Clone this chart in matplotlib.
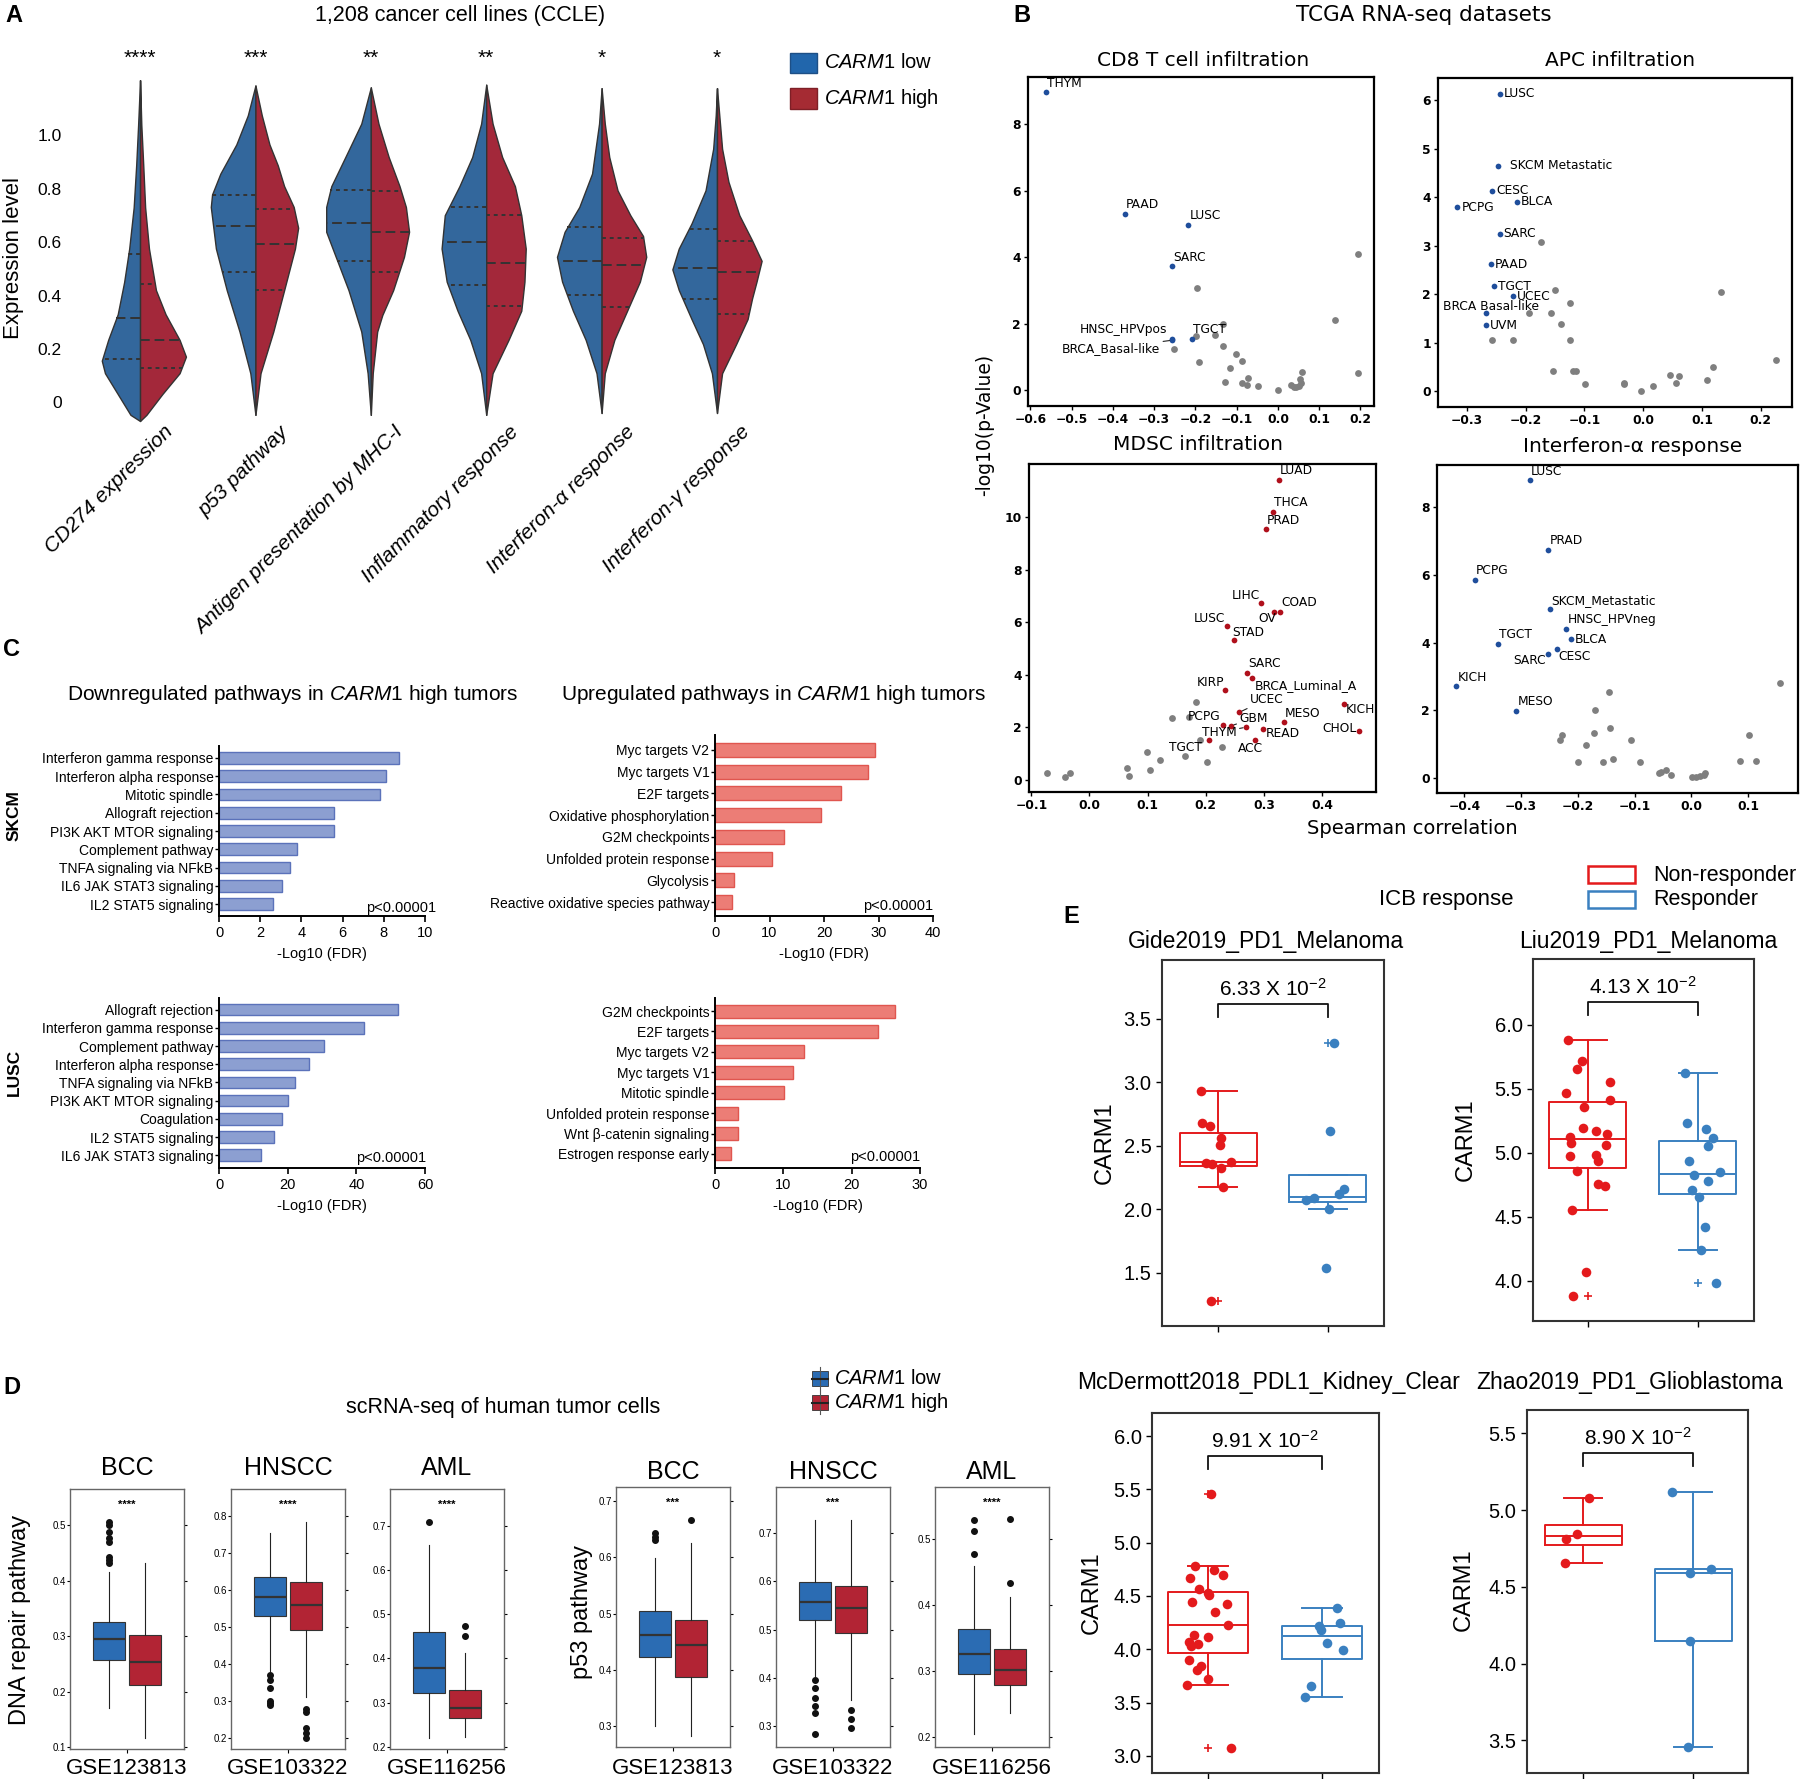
import numpy as np
import matplotlib
matplotlib.use('Agg')
import matplotlib.pyplot as plt
from matplotlib.patches import Rectangle

plt.rcParams['font.family'] = ['Liberation Sans', 'DejaVu Sans']
plt.rcParams['mathtext.fontset'] = 'custom'
plt.rcParams['mathtext.rm'] = 'Liberation Sans'
plt.rcParams['mathtext.it'] = 'Liberation Sans:italic'
plt.rcParams['mathtext.bf'] = 'Liberation Sans:bold'

# ---------------- A: CCLE violins ----------------
a_names = ['CD274 expression', 'p53 pathway', 'Antigen presentation by MHC-I',
           'Inflammatory response', 'Interferon-α response', 'Interferon-γ response']
a_stars = ['****', '***', '**', '**', '*', '*']
# (q1, median, q3)
a_low_q = [(0.164, 0.315, 0.555), (0.488, 0.662, 0.777), (0.531, 0.673, 0.794),
           (0.44, 0.60, 0.732), (0.403, 0.531, 0.657), (0.386, 0.503, 0.651)]
a_high_q = [(0.128, 0.234, 0.442), (0.419, 0.595, 0.724), (0.488, 0.639, 0.79),
            (0.36, 0.523, 0.70), (0.358, 0.514, 0.615), (0.332, 0.488, 0.606)]
# density profiles (level, relative half width)
a_low_lv = [
    [-0.07, -0.047, 0.031, 0.109, 0.156, 0.234, 0.33, 0.45, 0.576, 0.73, 0.89, 1.04, 1.207],
    [-0.047, 0.109, 0.265, 0.42, 0.576, 0.732, 0.779, 0.857, 0.966, 1.075, 1.187],
    [-0.047, 0.109, 0.265, 0.42, 0.545, 0.639, 0.732, 0.81, 0.919, 1.044, 1.18],
    [-0.047, 0.109, 0.234, 0.343, 0.452, 0.576, 0.701, 0.81, 0.919, 1.044, 1.19],
    [-0.04, 0.109, 0.234, 0.343, 0.452, 0.545, 0.639, 0.732, 0.857, 1.044, 1.177],
    [-0.04, 0.109, 0.218, 0.312, 0.421, 0.498, 0.576, 0.67, 0.794, 0.95, 1.075, 1.177]]
a_low_w = [
    [0, 15, 35, 55, 60, 50, 35, 25, 17, 10, 6, 3, 0],
    [0, 8, 25, 45, 62, 70, 68, 55, 30, 12, 0],
    [0, 5, 15, 35, 55, 70, 70, 62, 40, 15, 0],
    [0, 8, 25, 45, 62, 70, 65, 42, 22, 8, 0],
    [0, 8, 25, 45, 62, 70, 58, 35, 15, 4, 0],
    [0, 8, 22, 40, 60, 70, 60, 40, 18, 6, 2, 0]]
a_high_lv = [
    [-0.07, -0.047, 0.031, 0.109, 0.171, 0.234, 0.33, 0.42, 0.576, 0.73, 0.89, 1.04, 1.207],
    [-0.047, 0.109, 0.265, 0.42, 0.576, 0.654, 0.732, 0.81, 0.888, 0.966, 1.075, 1.187],
    [-0.047, 0.109, 0.265, 0.327, 0.42, 0.545, 0.639, 0.732, 0.81, 0.919, 1.044, 1.18],
    [-0.047, 0.109, 0.234, 0.343, 0.452, 0.576, 0.701, 0.81, 0.919, 1.044, 1.19],
    [-0.04, 0.109, 0.234, 0.343, 0.452, 0.545, 0.623, 0.701, 0.794, 0.919, 1.044, 1.177],
    [-0.04, 0.109, 0.218, 0.312, 0.389, 0.452, 0.53, 0.607, 0.701, 0.826, 0.95, 1.177]]
a_high_w = [
    [0, 10, 35, 62, 72, 62, 40, 25, 14, 8, 5, 2, 0],
    [0, 8, 28, 45, 62, 67, 60, 45, 35, 22, 10, 0],
    [0, 3, 10, 18, 35, 52, 60, 55, 45, 28, 12, 0],
    [0, 10, 35, 55, 60, 62, 55, 45, 25, 10, 0],
    [0, 5, 20, 40, 60, 70, 65, 45, 25, 12, 5, 0],
    [0, 8, 30, 48, 55, 62, 70, 55, 35, 18, 8, 0]]

# ---------------- B: TCGA scatter ----------------
cd8_names = ['THYM', 'PAAD', 'LUSC', 'SARC', 'HNSC_HPVpos', 'BRCA_Basal-like', 'TGCT']
cd8_x = [-0.563, -0.371, -0.217, -0.257, -0.258, -0.256, -0.209]
cd8_y = [8.96, 5.31, 4.97, 3.72, 1.54, 1.50, 1.54]
cd8_gx = [0.195, -0.195, 0.139, -0.133, -0.198, -0.152, -0.251, -0.133, -0.102, -0.191, -0.087,
          -0.115, 0.195, 0.059, 0.054, -0.072, -0.128, -0.087, -0.074, -0.049, 0.0, 0.032, 0.04,
          0.05, 0.044, 0.056]
cd8_gy = [4.09, 3.06, 2.12, 2.0, 1.63, 1.65, 1.24, 1.32, 1.08, 0.85, 0.86, 0.66, 0.52, 0.54, 0.32,
          0.35, 0.23, 0.2, 0.15, 0.13, 0.0, 0.15, 0.1, 0.12, 0.08, 0.2]

apc_names = ['LUSC', 'SKCM Metastatic', 'CESC', 'BLCA', 'PCPG', 'SARC', 'PAAD', 'TGCT', 'UCEC',
             'BRCA Basal-like', 'UVM']
apc_x = [-0.244, -0.247, -0.257, -0.215, -0.316, -0.244, -0.259, -0.254, -0.221, -0.267, -0.267]
apc_y = [6.14, 4.65, 4.13, 3.91, 3.79, 3.25, 2.62, 2.16, 1.96, 1.6, 1.36]
apc_gx = [-0.173, -0.15, 0.133, -0.124, -0.194, -0.156, -0.139, -0.257, -0.221, -0.124, 0.225,
          0.119, -0.154, -0.12, -0.115, 0.045, 0.061, 0.108, -0.099, -0.033, -0.032, 0.017, 0.056,
          -0.004]
apc_gy = [3.08, 2.09, 2.04, 1.82, 1.61, 1.61, 1.38, 1.06, 1.05, 1.06, 0.65, 0.5, 0.41, 0.41, 0.41,
          0.33, 0.3, 0.23, 0.14, 0.17, 0.15, 0.1, 0.17, 0.0]

mdsc_names = ['LUAD', 'THCA', 'PRAD', 'LIHC', 'COAD', 'OV', 'LUSC', 'STAD', 'SARC',
              'BRCA_Luminal_A', 'KIRP', 'KICH', 'UCEC', 'MESO', 'PCPG', 'GBM', 'THYM', 'READ',
              'CHOL', 'TGCT', 'ACC']
mdsc_x = [0.326, 0.315, 0.304, 0.295, 0.328, 0.318, 0.237, 0.249, 0.271, 0.279, 0.234, 0.438,
          0.258, 0.334, 0.229, 0.244, 0.269, 0.298, 0.464, 0.206, 0.284]
mdsc_y = [11.43, 10.22, 9.55, 6.73, 6.41, 6.39, 5.86, 5.32, 4.08, 3.87, 3.41, 2.89, 2.57, 2.19,
          2.1, 2.06, 2.0, 1.94, 1.86, 1.5, 1.5]
mdsc_gx = [0.183, 0.142, 0.172, 0.19, 0.228, 0.099, 0.164, 0.121, 0.203, 0.065, 0.104, 0.068,
           -0.073, -0.033, -0.042]
mdsc_gy = [2.97, 2.37, 2.39, 1.5, 1.25, 1.06, 0.9, 0.74, 0.66, 0.45, 0.38, 0.14, 0.24, 0.27, 0.11]

ifna_names = ['LUSC', 'PRAD', 'PCPG', 'SKCM_Metastatic', 'HNSC_HPVneg', 'BLCA', 'TGCT', 'CESC',
              'SARC', 'KICH', 'MESO']
ifna_x = [-0.285, -0.252, -0.381, -0.249, -0.22, -0.212, -0.341, -0.236, -0.252, -0.414, -0.308]
ifna_y = [8.8, 6.74, 5.86, 4.99, 4.41, 4.09, 3.96, 3.8, 3.67, 2.7, 1.98]
ifna_gx = [0.156, -0.145, -0.169, -0.143, -0.172, -0.228, 0.101, -0.231, -0.107, -0.186, -0.138,
           -0.2, -0.155, -0.09, 0.085, 0.114, -0.045, -0.054, -0.057, -0.035, 0.002, 0.008, 0.015,
           0.022, 0.024]
ifna_gy = [2.8, 2.54, 2.01, 1.47, 1.31, 1.28, 1.27, 1.11, 1.13, 0.97, 0.56, 0.46, 0.46, 0.47,
           0.51, 0.51, 0.24, 0.18, 0.14, 0.09, 0.02, 0.02, 0.04, 0.08, 0.15]

# ---------------- C: pathway bars ----------------
skcm_dn_lab = ['Interferon gamma response', 'Interferon alpha response', 'Mitotic spindle',
               'Allograft rejection', 'PI3K AKT MTOR signaling', 'Complement pathway',
               'TNFA signaling via NFkB', 'IL6 JAK STAT3 signaling', 'IL2 STAT5 signaling']
skcm_dn_val = [8.76, 8.11, 7.8, 5.6, 5.6, 3.78, 3.44, 3.07, 2.63]
skcm_up_lab = ['Myc targets V2', 'Myc targets V1', 'E2F targets', 'Oxidative phosphorylation',
               'G2M checkpoints', 'Unfolded protein response', 'Glycolysis',
               'Reactive oxidative species pathway']
skcm_up_val = [29.4, 28.1, 23.2, 19.5, 12.7, 10.4, 3.5, 3.2]
lusc_dn_lab = ['Allograft rejection', 'Interferon gamma response', 'Complement pathway',
               'Interferon alpha response', 'TNFA signaling via NFkB', 'PI3K AKT MTOR signaling',
               'Coagulation', 'IL2 STAT5 signaling', 'IL6 JAK STAT3 signaling']
lusc_dn_val = [52.2, 42.2, 30.7, 26.2, 22.1, 20.1, 18.4, 16.0, 12.3]
lusc_up_lab = ['G2M checkpoints', 'E2F targets', 'Myc targets V2', 'Myc targets V1',
               'Mitotic spindle', 'Unfolded protein response', 'Wnt β-catenin signaling',
               'Estrogen response early']
lusc_up_val = [26.4, 23.9, 13.0, 11.4, 10.1, 3.4, 3.3, 2.3]

# ---------------- D: scRNA-seq boxes (whislo, q1, med, q3, whishi) ----------------
d_sets = ['BCC', 'HNSCC', 'AML']
d_gse = ['GSE123813', 'GSE103322', 'GSE116256']
dna_low = [[0.170, 0.258, 0.295, 0.325, 0.416], [0.38, 0.53, 0.582, 0.634, 0.754],
           [0.219, 0.321, 0.379, 0.459, 0.656]]
dna_low_fl = [[0.506, 0.50, 0.488, 0.476, 0.47, 0.443, 0.437, 0.431],
              [0.371, 0.357, 0.335, 0.30, 0.295, 0.29], [0.709]]
dna_high = [[0.116, 0.212, 0.254, 0.302, 0.432], [0.31, 0.492, 0.558, 0.62, 0.784],
            [0.223, 0.264, 0.288, 0.328, 0.411]]
dna_high_fl = [[], [0.28, 0.272, 0.227, 0.213, 0.20], [0.474, 0.451]]
dna_stars = ['****', '****', '****']
p53_low = [[0.30, 0.423, 0.462, 0.504, 0.598], [0.403, 0.519, 0.558, 0.599, 0.726],
           [0.204, 0.295, 0.326, 0.364, 0.459]]
p53_low_fl = [[0.643, 0.637, 0.631], [0.396, 0.379, 0.358, 0.341, 0.327, 0.283],
              [0.529, 0.512, 0.477]]
p53_high = [[0.282, 0.387, 0.445, 0.489, 0.626], [0.355, 0.492, 0.544, 0.59, 0.726],
            [0.237, 0.279, 0.301, 0.334, 0.413]]
p53_high_fl = [[0.666], [0.334, 0.314, 0.297], [0.53, 0.433]]
p53_stars = ['***', '***', '****']

# ---------------- E: ICB response ----------------
e_titles = ['Gide2019_PD1_Melanoma', 'Liu2019_PD1_Melanoma',
            'McDermott2018_PDL1_Kidney_Clear', 'Zhao2019_PD1_Glioblastoma']
e_pvals = ['6.33', '4.13', '9.91', '8.90']
e_nr_stat = [[2.178, 2.344, 2.375, 2.604, 2.935], [4.552, 4.878, 5.104, 5.398, 5.878],
             [3.663, 3.966, 4.228, 4.541, 4.781], [4.656, 4.773, 4.828, 4.903, 5.079]]
e_r_stat = [[2.0, 2.057, 2.099, 2.273, 2.273], [4.24, 4.674, 4.833, 5.094, 5.625],
            [3.556, 3.909, 4.125, 4.219, 4.384], [3.454, 4.144, 4.589, 4.619, 5.118]]
e_nr_fl = [[1.279], [3.883], [5.453, 3.078], []]
e_r_fl = [[3.313], [3.98], [], []]
e_nr_val = [
    [2.932, 2.683, 2.656, 2.564, 2.507, 2.362, 2.357, 2.375, 2.323, 2.178, 1.279],
    [5.878, 5.716, 5.654, 5.552, 5.469, 5.411, 5.359, 5.19, 5.169, 5.125, 5.143, 5.078, 5.06,
     4.974, 4.982, 4.935, 4.857, 4.753, 4.74, 4.552, 4.07, 3.883],
    [4.781, 4.741, 4.666, 4.694, 4.563, 4.509, 4.525, 4.447, 4.425, 4.35, 4.228, 4.131, 4.113,
     4.069, 4.05, 4.028, 3.903, 3.841, 3.809, 3.725, 3.663, 5.453, 3.078],
    [5.079, 4.845, 4.812, 4.656]]
e_nr_jit = [
    [-0.153, -0.148, -0.074, 0.028, 0.019, -0.111, -0.051, 0.116, 0.023, 0.046, -0.06],
    [-0.186, -0.051, -0.102, 0.199, -0.204, 0.204, -0.037, -0.046, 0.074, -0.162, 0.176, -0.158,
     0.162, -0.167, 0.07, 0.093, -0.097, 0.088, 0.158, -0.144, -0.019, -0.135],
    [-0.116, 0.049, -0.157, 0.134, -0.081, 0.009, -0.004, -0.143, 0.166, 0.063, 0.175, -0.125,
     0.0, -0.17, -0.09, -0.148, -0.17, -0.058, -0.094, 0.0, -0.188, 0.027, 0.201],
    [0.051, -0.056, -0.158, -0.162]]
e_r_val = [
    [3.313, 2.62, 2.073, 2.086, 2.118, 2.157, 2.0, 1.534],
    [5.625, 5.229, 5.188, 5.112, 5.055, 4.938, 4.826, 4.846, 4.779, 4.708, 4.656, 4.422, 4.24,
     3.98],
    [4.384, 4.247, 4.216, 4.184, 4.059, 3.991, 3.653, 3.556],
    [5.118, 4.589, 4.619, 4.144, 3.454]]
e_r_jit = [
    [0.056, 0.023, -0.204, -0.125, 0.097, 0.148, 0.005, -0.014],
    [-0.121, -0.097, 0.07, 0.135, 0.088, -0.083, -0.037, 0.204, 0.088, -0.056, 0.014, 0.065,
     0.028, 0.167],
    [0.134, 0.161, -0.027, -0.013, 0.04, 0.184, -0.098, -0.148],
    [-0.195, -0.032, 0.162, -0.023, -0.046]]
e_bracket = [(3.518, 3.618), (6.076, 6.174), (5.69, 5.8125), (5.287, 5.37)]

# ================= drawing =================
W, H = 1800, 1779
fig = plt.figure(figsize=(W / 100, H / 100), dpi=100)


def box(x0, y0, x1, y1):
    return fig.add_axes([x0 / W, 1 - y1 / H, (x1 - x0) / W, (y1 - y0) / H])


def ftext(x, y, s, **kw):
    kw.setdefault('ha', 'center')
    kw.setdefault('va', 'center')
    fig.text(x / W, 1 - y / H, s, **kw)


def frect(x0, y0, x1, y1, **kw):
    fig.add_artist(Rectangle((x0 / W, 1 - y1 / H), (x1 - x0) / W, (y1 - y0) / H,
                             transform=fig.transFigure, **kw))


# ---- panel labels ----
for lab, x, y in [('A', 14, 15), ('B', 1022, 15), ('C', 12, 650), ('D', 12, 1387), ('E', 1071, 917)]:
    ftext(x, y, lab, fontsize=17, fontweight='bold')

# ---- A ----
blue_v, red_v = '#33679c', '#a3283a'
ax = box(70, 42, 780, 429)
wscale = 1 / 181.0
for i in range(len(a_names)):
    for lv, wd, q, col, side in [(a_low_lv[i], a_low_w[i], a_low_q[i], blue_v, -1),
                                 (a_high_lv[i], a_high_w[i], a_high_q[i], red_v, 1)]:
        lv = np.array(lv)
        wd = np.array(wd) * wscale
        ax.fill_betweenx(lv, i, i + side * wd, facecolor=col, edgecolor='#333333', lw=1.0)
        for k, qv in enumerate(q):
            hw = np.interp(qv, lv, wd)
            ls = (0, (5, 2.5)) if k == 1 else (0, (2, 2))
            ax.plot([i, i + side * hw], [qv, qv], color='#333333', lw=1.4, ls=ls)
    ax.text(i, 1.29, a_stars[i], ha='center', va='center', fontsize=15)
    ax.text(i + 0.2, -0.075, a_names[i], rotation=45, rotation_mode='anchor', ha='right',
            va='top', fontsize=15, style='italic')
ax.set_xlim(-0.607, 5.546)
ax.set_ylim(-0.1, 1.35)
ax.set_yticks([0, 0.2, 0.4, 0.6, 0.8, 1.0], ['0', '0.2', '0.4', '0.6', '0.8', '1.0'])
ax.set_xticks([])
ax.tick_params(axis='y', length=0, labelsize=12.5, pad=6)
for s in ax.spines.values():
    s.set_visible(False)
ftext(14, 258, 'Expression level', rotation=90, fontsize=16)
ftext(460, 15, '1,208 cancer cell lines (CCLE)', fontsize=15.5)
frect(790, 53, 817, 73, facecolor='#2166ac', edgecolor='#1d4f86', lw=1)
frect(790, 88, 817, 109, facecolor='#a52b33', edgecolor='#7e1f26', lw=1)
ftext(824, 63, r'$\mathit{CARM1}$ low', ha='left', fontsize=14.5)
ftext(824, 98, r'$\mathit{CARM1}$ high', ha='left', fontsize=14.5)

# ---- B ----
dv = 'DejaVu Sans'


def scatter_panel(rect, xlim, ylim, xticks, yticks, names, xs, ys, col, gx, gy,
                  offs, default_off, links, title, tpos):
    ax = box(*rect)
    ax.scatter(gx, gy, s=24, color='#7f7f7f', zorder=2, linewidths=0)
    ax.scatter(xs, ys, s=17, color=col, zorder=3, linewidths=0)
    for n, x, y in zip(names, xs, ys):
        dx, dy, ha = offs.get(n, default_off)
        ap = None
        if n in links:
            ap = dict(arrowstyle='-', lw=0.8, color='#222222', shrinkA=0, shrinkB=2)
        ax.annotate(n, (x, y), xytext=(dx * 0.72, dy * 0.72), textcoords='offset points',
                    ha=ha, va='center', fontsize=8.8, family=dv, arrowprops=ap, zorder=4)
    ax.set_xlim(*xlim)
    ax.set_ylim(*ylim)
    ax.set_xticks(xticks)
    ax.set_yticks(yticks)
    ax.set_xticklabels([f'{t:.1f}'.replace('-', '\u2212') for t in xticks])
    for lab in ax.get_xticklabels() + ax.get_yticklabels():
        lab.set_family(dv)
        lab.set_fontweight('bold')
        lab.set_fontsize(8.8)
    ax.tick_params(length=3, width=1, pad=2)
    for s in ax.spines.values():
        s.set_linewidth(1.6)
    ftext(tpos[0], tpos[1], title, fontsize=14.5, family=dv)
    return ax


bl, rd = '#1f4e9c', '#b0101c'
scatter_panel((1028, 77, 1374, 406), (-0.606, 0.233), (-0.48, 9.42),
              [-0.6, -0.5, -0.4, -0.3, -0.2, -0.1, 0.0, 0.1, 0.2], [0, 2, 4, 6, 8],
              cd8_names, cd8_x, cd8_y, bl, cd8_gx, cd8_gy,
              {'HNSC_HPVpos': (-4, 9, 'right'), 'BRCA_Basal-like': (-12, -8, 'right')},
              (1, 9, 'left'), ['BRCA_Basal-like'], 'CD8 T cell infiltration', (1203, 60))
scatter_panel((1438, 78, 1792, 407), (-0.349, 0.253), (-0.33, 6.46),
              [-0.3, -0.2, -0.1, 0.0, 0.1, 0.2], [0, 1, 2, 3, 4, 5, 6],
              apc_names, apc_x, apc_y, bl, apc_gx, apc_gy,
              {'SKCM Metastatic': (12, 0, 'left'), 'BRCA Basal-like': (-43, 7, 'left')},
              (4, 0, 'left'), [], 'APC infiltration', (1620, 60))
scatter_panel((1029, 464, 1376, 792), (-0.104, 0.493), (-0.47, 12.04),
              [-0.1, 0.0, 0.1, 0.2, 0.3, 0.4], [0, 2, 4, 6, 8, 10],
              mdsc_names, mdsc_x, mdsc_y, rd, mdsc_gx, mdsc_gy,
              {'LIHC': (-1, 8, 'right'), 'OV': (2, -6, 'right'), 'LUSC': (-2, 8, 'right'),
               'STAD': (-2, 8, 'left'), 'BRCA_Luminal_A': (3, -7, 'left'),
               'KIRP': (-1, 8, 'right'), 'UCEC': (10, 13, 'left'), 'KICH': (2, -6, 'left'),
               'PCPG': (-2, 8, 'right'), 'GBM': (8, 7, 'left'), 'THYM': (-9, -5, 'right'),
               'READ': (3, -5, 'left'), 'CHOL': (-3, 2, 'right'), 'TGCT': (-7, -7, 'right'),
               'ACC': (-17, -8, 'left')},
              (1, 9, 'left'), ['UCEC', 'GBM', 'THYM'], 'MDSC infiltration', (1198, 445))
scatter_panel((1437, 465, 1798, 793), (-0.448, 0.188), (-0.45, 9.25),
              [-0.4, -0.3, -0.2, -0.1, 0.0, 0.1], [0, 2, 4, 6, 8],
              ifna_names, ifna_x, ifna_y, bl, ifna_gx, ifna_gy,
              {'BLCA': (4, 0, 'left'), 'CESC': (1, -7, 'left'), 'SARC': (-2, -7, 'right')},
              (1, 9, 'left'), [], 'Interferon-α response', (1633, 447))
ftext(1424, 15, 'TCGA RNA-seq datasets', fontsize=15.5, family=dv)
ftext(985, 425, '-log10(p-Value)', rotation=90, fontsize=13.5, family=dv)
ftext(1412, 828, 'Spearman correlation', fontsize=14, family=dv)

# ---- C ----
cb_face, cb_edge = '#8c9fd1', '#5b72ba'
cr_face, cr_edge = '#ec7d76', '#e0564f'


def bar_panel(rect, labels, vals, xmax, xticks, face, edge, ylim, ppos):
    ax = box(*rect)
    y = np.arange(len(vals))
    ax.barh(y, vals, height=0.64, color=face, edgecolor=edge, lw=1)
    ax.set_ylim(*ylim)
    ax.set_xlim(0, xmax)
    ax.set_yticks(y, labels, fontsize=10)
    ax.set_xticks(xticks)
    ax.tick_params(axis='x', labelsize=10.5, length=4, width=1.2)
    ax.tick_params(axis='y', length=3, width=1, pad=1)
    for s in ['top', 'right']:
        ax.spines[s].set_visible(False)
    for s in ['left', 'bottom']:
        ax.spines[s].set_linewidth(1.4)
    ax.set_xlabel('-Log10 (FDR)', fontsize=10.5, labelpad=5)
    ftext(ppos[0], ppos[1], 'p<0.00001', ha='right', fontsize=10.5)


bar_panel((219, 746, 425, 916), skcm_dn_lab, skcm_dn_val, 10, [0, 2, 4, 6, 8, 10],
          cb_face, cb_edge, (8.65, -0.65), (436, 908))
bar_panel((715, 735, 933, 916), skcm_up_lab, skcm_up_val, 40, [0, 10, 20, 30, 40],
          cr_face, cr_edge, (7.64, -0.68), (933, 906))
bar_panel((219, 998, 425, 1168), lusc_dn_lab, lusc_dn_val, 60, [0, 20, 40, 60],
          cb_face, cb_edge, (8.7, -0.64), (426, 1158))
bar_panel((715, 998, 920, 1168), lusc_up_lab, lusc_up_val, 30, [0, 10, 20, 30],
          cr_face, cr_edge, (7.69, -0.64), (920, 1157))
ftext(293, 694, r'Downregulated pathways in $\mathit{CARM1}$ high tumors', fontsize=15)
ftext(773, 694, r'Upregulated pathways in $\mathit{CARM1}$ high tumors', fontsize=15)
ftext(14, 816, 'SKCM', rotation=90, fontsize=12.5, fontweight='bold')
ftext(14, 1072, 'LUSC', rotation=90, fontsize=12.5, fontweight='bold')

# ---- D ----
d_blue, d_red = '#2b6cb3', '#b22434'


def d_panel(rect, title, xlab, low, lowf, high, highf, ylim, yticks, stars, ty):
    ax = box(*rect)
    stats = []
    for s, f in [(low, lowf), (high, highf)]:
        stats.append(dict(whislo=s[0], q1=s[1], med=s[2], q3=s[3], whishi=s[4], fliers=f))
    bp = ax.bxp(stats, positions=[1, 2], widths=0.865, patch_artist=True, showcaps=False,
                boxprops=dict(edgecolor='#333333', lw=0.8),
                medianprops=dict(color='#333333', lw=1.6),
                whiskerprops=dict(color='#222222', lw=0.8),
                flierprops=dict(marker='o', markerfacecolor='#111111',
                                markeredgecolor='#111111', markersize=4))
    for patch, c in zip(bp['boxes'], [d_blue, d_red]):
        patch.set_facecolor(c)
    ax.set_xlim(-0.07, 3.07)
    ax.set_ylim(*ylim)
    ax.set_yticks(yticks, [f'{t:.1f}' for t in yticks])
    ax.set_xticks([1.5], [''])
    ax.tick_params(axis='y', labelsize=7, length=2, pad=1, right=True, labelright=False)
    ax.tick_params(axis='x', length=3)
    for s in ax.spines.values():
        s.set_color('#666666')
        s.set_linewidth(1.0)
    ax.text(1.5, 0.94, stars, transform=ax.get_xaxis_transform(), ha='center', va='center',
            fontsize=8, fontweight='bold')
    cx = (rect[0] + rect[2]) / 2
    ftext(cx, ty, title, fontsize=18)
    ftext(cx, 1769, xlab, fontsize=16)


dna_rects = [(70, 1489, 184, 1749), (231, 1489, 345, 1749), (390, 1489, 504, 1749)]
p53_rects = [(616, 1487, 730, 1747), (776, 1487, 890, 1747), (935, 1487, 1049, 1747)]
dna_lims = [(0.097, 0.565), (0.171, 0.872), (0.195, 0.783)]
dna_ticks = [[0.1, 0.2, 0.3, 0.4, 0.5], [0.2, 0.3, 0.4, 0.5, 0.6, 0.7, 0.8],
             [0.2, 0.3, 0.4, 0.5, 0.6, 0.7]]
p53_lims = [(0.263, 0.725), (0.257, 0.795), (0.185, 0.579)]
p53_ticks = [[0.3, 0.4, 0.5, 0.6, 0.7], [0.3, 0.4, 0.5, 0.6, 0.7], [0.2, 0.3, 0.4, 0.5]]
for i in range(3):
    d_panel(dna_rects[i], d_sets[i], d_gse[i], dna_low[i], dna_low_fl[i], dna_high[i],
            dna_high_fl[i], dna_lims[i], dna_ticks[i], dna_stars[i], 1468)
    d_panel(p53_rects[i], d_sets[i], d_gse[i], p53_low[i], p53_low_fl[i], p53_high[i],
            p53_high_fl[i], p53_lims[i], p53_ticks[i], p53_stars[i], 1472)
ftext(20, 1620, 'DNA repair pathway', rotation=90, fontsize=17)
ftext(582, 1612, 'p53 pathway', rotation=90, fontsize=17)
ftext(503, 1407, 'scRNA-seq of human tumor cells', fontsize=15.5)
for (y0, y1), c, lab in [((1371, 1386), d_blue, 'low'), ((1395, 1410), d_red, 'high')]:
    fig.add_artist(plt.Line2D([820 / W, 820 / W], [1 - (y0 - 4) / H, 1 - (y1 + 4) / H],
                              transform=fig.transFigure, color='#555555', lw=0.8))
    frect(812, y0, 828, y1, facecolor=c, edgecolor='#333333', lw=0.6)
    fig.add_artist(plt.Line2D([812 / W, 828 / W], [1 - (y0 + y1) / 2 / H] * 2,
                              transform=fig.transFigure, color='#222222', lw=1.5))
    ftext(834, (y0 + y1) / 2, r'$\mathit{CARM1}$ ' + lab, ha='left', fontsize=14.5)

# ---- E ----
e_red, e_blue = '#e41a1c', '#3a80c0'
e_rects = [(1162, 960, 1384, 1326), (1533, 959, 1754, 1321),
           (1152, 1413, 1379, 1773), (1527, 1410, 1748, 1773)]
e_xlims = [(0.49, 2.51), (0.5, 2.51), (0.509, 2.5), (0.49, 2.5)]
e_ylims = [(1.08, 3.965), (3.685, 6.513), (2.84, 6.216), (3.287, 5.652)]
e_yticks = [[1.5, 2.0, 2.5, 3.0, 3.5], [4.0, 4.5, 5.0, 5.5, 6.0],
            [3.0, 3.5, 4.0, 4.5, 5.0, 5.5, 6.0], [3.5, 4.0, 4.5, 5.0, 5.5]]
e_tpos = [(1266, 941), (1648, 941), (1269, 1383), (1630, 1383)]
e_ylab = [(1105, 1143), (1466, 1140), (1092, 1593), (1464, 1590)]
for i in range(4):
    ax = box(*e_rects[i])
    for pos, s, f, c in [(1, e_nr_stat[i], e_nr_fl[i], e_red), (2, e_r_stat[i], e_r_fl[i], e_blue)]:
        st = [dict(whislo=s[0], q1=s[1], med=s[2], q3=s[3], whishi=s[4], fliers=f)]
        ax.bxp(st, positions=[pos], widths=0.7, capwidths=0.35,
               boxprops=dict(color=c, lw=1.4), medianprops=dict(color=c, lw=1.4),
               whiskerprops=dict(color=c, lw=1.4), capprops=dict(color=c, lw=1.4),
               flierprops=dict(marker='+', markeredgecolor=c, markersize=6, mew=1.2))
    ax.scatter(1 + np.array(e_nr_jit[i]), e_nr_val[i], s=48, color=e_red, zorder=3, linewidths=0)
    ax.scatter(2 + np.array(e_r_jit[i]), e_r_val[i], s=48, color=e_blue, zorder=3, linewidths=0)
    lo, hi = e_bracket[i]
    ax.plot([1, 1, 2, 2], [lo, hi, hi, lo], color='#111111', lw=1.3)
    ax.text(1.5, hi + (e_ylims[i][1] - e_ylims[i][0]) * 0.012,
            e_pvals[i] + r' X 10$^{\mathregular{-2}}$', ha='center', va='bottom', fontsize=15)
    ax.set_xlim(*e_xlims[i])
    ax.set_ylim(*e_ylims[i])
    ax.set_yticks(e_yticks[i], [f'{t:.1f}' for t in e_yticks[i]])
    ax.set_xticks([1, 2], ['', ''])
    ax.tick_params(labelsize=14.5, length=4, width=1)
    for s in ax.spines.values():
        s.set_color('#333333')
        s.set_linewidth(1.5)
    ftext(e_tpos[i][0], e_tpos[i][1], e_titles[i], fontsize=16.5)
    ftext(e_ylab[i][0], e_ylab[i][1], 'CARM1', rotation=90, fontsize=17)
ftext(1446, 899, 'ICB response', fontsize=16)
frect(1588, 866, 1635, 883, facecolor='white', edgecolor=e_red, lw=1.8)
frect(1588, 891, 1635, 908, facecolor='white', edgecolor=e_blue, lw=1.8)
ftext(1653, 876, 'Non-responder', ha='left', fontsize=15.5)
ftext(1653, 900, 'Responder', ha='left', fontsize=15.5)

fig.savefig('out.png', dpi=100, facecolor='white')
